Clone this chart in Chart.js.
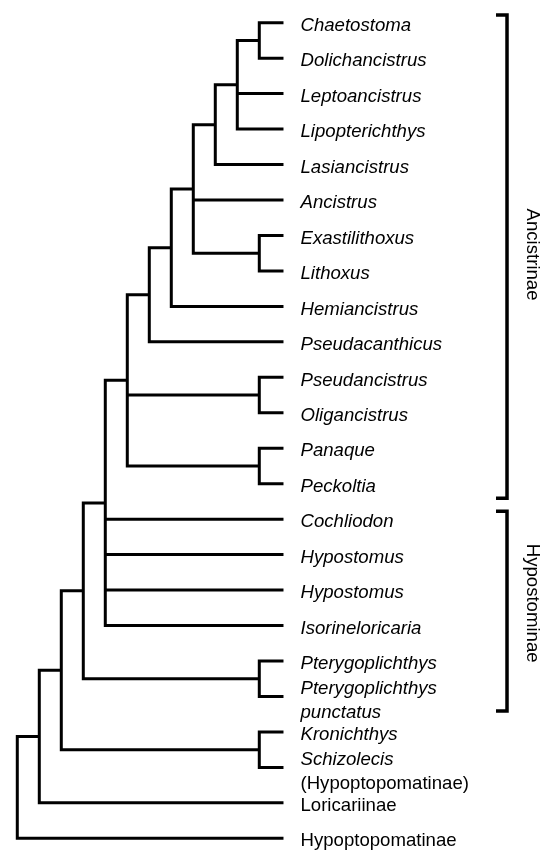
<!DOCTYPE html>
<html><head><meta charset="utf-8">
<script src="https://cdn.jsdelivr.net/npm/chart.js@4"></script>
<style>html,body{margin:0;padding:0;background:#fff}canvas{display:block}</style>
</head><body>
<canvas id="c" width="541" height="850"></canvas>
<script>
// ---- data ----
const leafNames = ['Chaetostoma','Dolichancistrus','Leptoancistrus','Lipopterichthys','Lasiancistrus','Ancistrus','Exastilithoxus','Lithoxus','Hemiancistrus','Pseudacanthicus','Pseudancistrus','Oligancistrus','Panaque','Peckoltia','Cochliodon','Hypostomus','Hypostomus','Isorineloricaria','Pterygoplichthys',['Pterygoplichthys','punctatus'],'Kronichthys',['Schizolecis','(Hypoptopomatinae)'],'Loricariinae','Hypoptopomatinae'];
const leafDepth = 12.1;
const cladeIds   = ['root','J','I','H','G','F','E','D','C','B','A','p1','p2','p3','p4','p5','p6'];
const cladeDepth = [0,1,2,3,4,5,6,7,8,9,10,11,11,11,11,11,11];
const cladeKids  = [['J',23],['I',22],['H','p6'],['G','p5'],['F',14,15,16,17],['E','p3','p4'],['D',9],['C',8],['B',5,'p2'],['A',4],['p1',2,3],[0,1],[6,7],[10,11],[12,13],[18,19],[20,21]];
const groupNames = ['Ancistrinae','Hypostominae'];
const groupFirst = [0,14];
const groupLast  = [13,19];

// ---- layout / style ----
const X_MIN = -0.786, X_MAX = 23.805, Y_MIN = -0.64, Y_MAX = 23.33;
const BR_TICK_X = 21.76, BR_BAR_X = 22.26, BR_TOP_PAD = 0.22, BR_BOT_PAD = 0.41;
const FONT = '"Liberation Sans", Arial, Helvetica, sans-serif';
const FS = 18.6;

function cIdx(id){ return cladeIds.indexOf(id); }
function xOf(ref){ return typeof ref === 'number' ? leafDepth : cladeDepth[cIdx(ref)]; }
function yOf(ref){
  if (typeof ref === 'number') return ref;
  const kids = cladeKids[cIdx(ref)];
  return (yOf(kids[0]) + yOf(kids[kids.length-1])) / 2;
}

const lineStyle = {showLine:true, borderColor:'#000', borderWidth:3, pointRadius:0, pointHoverRadius:0, fill:false, tension:0, borderJoinStyle:'miter', borderCapStyle:'butt', clip:false};
const datasets = [];
cladeIds.forEach((id, ci) => {
  const d = cladeDepth[ci];
  const kids = cladeKids[ci];
  const k0 = kids[0], kn = kids[kids.length-1];
  datasets.push(Object.assign({data:[
    {x:xOf(k0), y:yOf(k0)}, {x:d, y:yOf(k0)}, {x:d, y:yOf(kn)}, {x:xOf(kn), y:yOf(kn)}
  ]}, lineStyle));
  kids.slice(1, -1).forEach(k => {
    datasets.push(Object.assign({data:[{x:d, y:yOf(k)}, {x:xOf(k), y:yOf(k)}]}, lineStyle));
  });
});
groupNames.forEach((g, gi) => {
  const t = groupFirst[gi] - BR_TOP_PAD, b = groupLast[gi] + BR_BOT_PAD;
  datasets.push(Object.assign({data:[
    {x:BR_TICK_X, y:t}, {x:BR_BAR_X, y:t}, {x:BR_BAR_X, y:b}, {x:BR_TICK_X, y:b}
  ]}, lineStyle, {borderWidth:3.5}));
});

const labelPlugin = {
  id:'labels',
  afterDatasetsDraw(chart){
    const ctx = chart.ctx, xs = chart.scales.x, ys = chart.scales.y;
    ctx.save();
    ctx.fillStyle = '#000';
    ctx.textAlign = 'left';
    ctx.textBaseline = 'alphabetic';
    const lx = xs.getPixelForValue(leafDepth) + 17;
    leafNames.forEach((name, i) => {
      const y = ys.getPixelForValue(i);
      const lines = Array.isArray(name) ? name : [name];
      const offs = lines.length === 1 ? [8.2] : [-2.3, 21.2];
      lines.forEach((ln, j) => {
        const upright = /inae\)?$/.test(ln);
        ctx.font = (upright ? '' : 'italic ') + FS + 'px ' + FONT;
        ctx.fillText(ln, lx, y + offs[j]);
      });
    });
    ctx.font = FS + 'px ' + FONT;
    ctx.textAlign = 'center';
    const gx = xs.getPixelForValue(BR_BAR_X) + 20;
    const gShift = [-2, -8];
    groupNames.forEach((g, gi) => {
      const yc = (ys.getPixelForValue(groupFirst[gi] - BR_TOP_PAD) + ys.getPixelForValue(groupLast[gi] + BR_BOT_PAD)) / 2 + gShift[gi];
      ctx.save();
      ctx.translate(gx, yc);
      ctx.rotate(Math.PI / 2);
      ctx.fillText(g, 0, 0);
      ctx.restore();
    });
    ctx.restore();
  }
};

new Chart(document.getElementById('c'), {
  type:'scatter',
  data:{datasets},
  options:{
    responsive:false, animation:false, devicePixelRatio:1,
    layout:{padding:0},
    plugins:{legend:{display:false}, tooltip:{enabled:false}},
    events:[],
    scales:{
      x:{type:'linear', min:X_MIN, max:X_MAX, display:false},
      y:{type:'linear', min:Y_MIN, max:Y_MAX, reverse:true, display:false}
    }
  },
  plugins:[labelPlugin]
});
</script>
</body></html>
